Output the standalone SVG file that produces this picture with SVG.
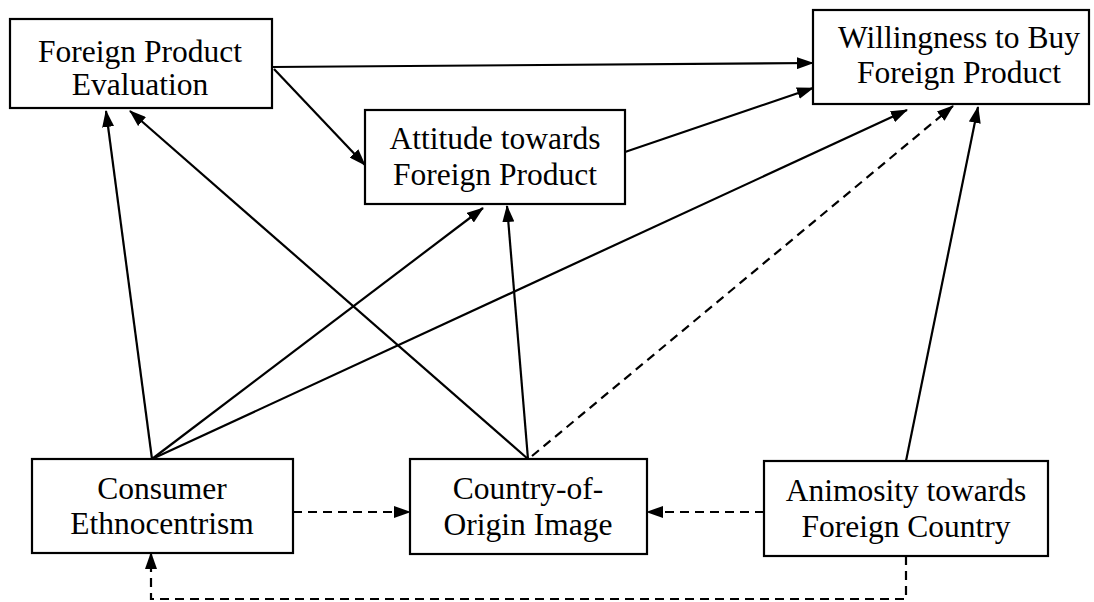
<svg xmlns="http://www.w3.org/2000/svg" width="1094" height="602" viewBox="0 0 1094 602">
  <defs>
    <marker id="arrow" markerUnits="userSpaceOnUse" markerWidth="17" markerHeight="12" refX="16" refY="6" orient="auto">
      <path d="M0,0 L17,6 L0,12 z" fill="#000"/>
    </marker>
    <style>
      .box { fill: #fff; stroke: #000; stroke-width: 2.2; }
      .label { font-family: "Liberation Serif", "Times New Roman", serif; font-size: 31.5px; fill: #000; text-anchor: middle; }
      .edge { fill: none; stroke: #000; stroke-width: 2.2; }
      .dashed { stroke-dasharray: 9 6; }
    </style>
  </defs>
  <rect width="1094" height="602" fill="#fff"/>

  <!-- connectors -->
  <g id="connectors">
    <line class="edge" x1="272" y1="67" x2="813" y2="63" marker-end="url(#arrow)"/>
    <line class="edge" x1="274" y1="69" x2="365" y2="165" marker-end="url(#arrow)"/>
    <line class="edge" x1="625" y1="152" x2="813" y2="88" marker-end="url(#arrow)"/>
    <line class="edge" x1="152" y1="459" x2="106" y2="111" marker-end="url(#arrow)"/>
    <line class="edge" x1="152" y1="459" x2="483" y2="208" marker-end="url(#arrow)"/>
    <line class="edge" x1="152" y1="459" x2="907" y2="110" marker-end="url(#arrow)"/>
    <line class="edge" x1="528" y1="459" x2="130" y2="111" marker-end="url(#arrow)"/>
    <line class="edge" x1="528" y1="459" x2="507" y2="206" marker-end="url(#arrow)"/>
    <line class="edge dashed" x1="532" y1="456" x2="953" y2="106" marker-end="url(#arrow)"/>
    <line class="edge" x1="906" y1="461" x2="978" y2="107" marker-end="url(#arrow)"/>
    <line class="edge dashed" x1="293" y1="512" x2="410" y2="512" marker-end="url(#arrow)"/>
    <line class="edge dashed" x1="764" y1="512" x2="647" y2="512" marker-end="url(#arrow)"/>
    <polyline class="edge dashed" points="906,556 906,599 151,599 151,553" marker-end="url(#arrow)"/>
  </g>

  <g id="foreign-product-evaluation">
    <rect class="box" x="10" y="19" width="262" height="89"/>
    <text class="label" x="140" y="62">Foreign Product</text>
    <text class="label" x="140" y="95">Evaluation</text>
  </g>

  <g id="attitude-towards-foreign-product">
    <rect class="box" x="365" y="110" width="260" height="94"/>
    <text class="label" x="495" y="149">Attitude towards</text>
    <text class="label" x="495" y="185">Foreign Product</text>
  </g>

  <g id="willingness-to-buy">
    <rect class="box" x="813" y="10" width="276" height="94"/>
    <text class="label" x="959" y="48">Willingness to Buy</text>
    <text class="label" x="959" y="83">Foreign Product</text>
  </g>

  <g id="consumer-ethnocentrism">
    <rect class="box" x="32" y="459" width="261" height="94"/>
    <text class="label" x="162" y="499">Consumer</text>
    <text class="label" x="162" y="534">Ethnocentrism</text>
  </g>

  <g id="country-of-origin-image">
    <rect class="box" x="410" y="459" width="237" height="95"/>
    <text class="label" x="528" y="499">Country-of-</text>
    <text class="label" x="528" y="535">Origin Image</text>
  </g>

  <g id="animosity-towards-foreign-country">
    <rect class="box" x="764" y="461" width="284" height="95"/>
    <text class="label" x="906" y="501">Animosity towards</text>
    <text class="label" x="906" y="537">Foreign Country</text>
  </g>
</svg>
